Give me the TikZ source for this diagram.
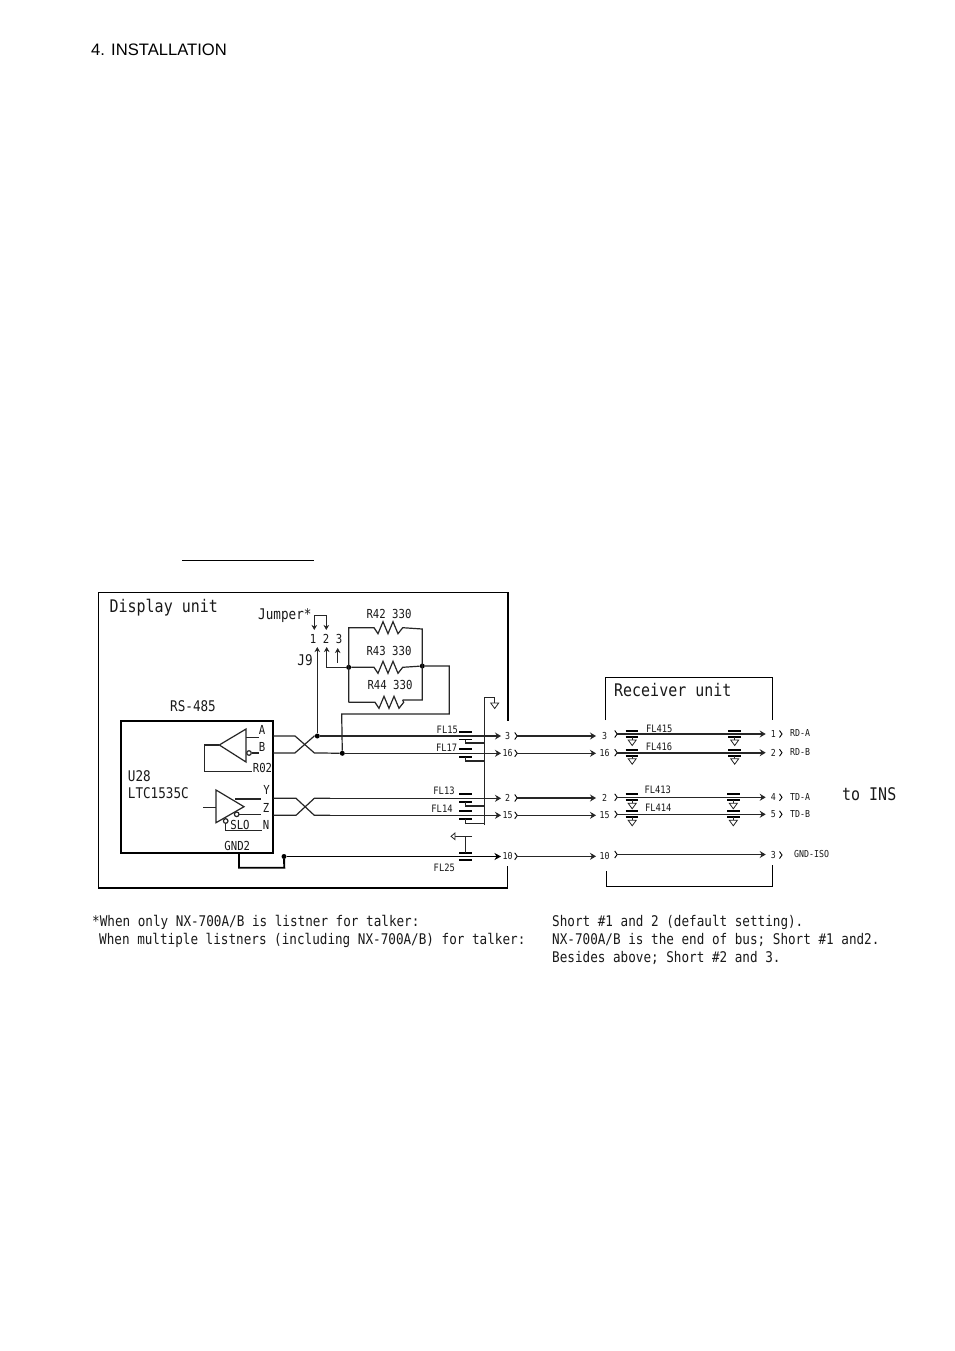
\documentclass[tikz,border=0pt]{standalone}
\usepackage{fontspec}
\usetikzlibrary{arrows.meta}
\setmainfont{Liberation Sans}
\newfontfamily\gothic[FakeStretch=0.86]{DejaVu Sans Mono}
\newcommand{\gsize}[1]{\gothic\fontsize{#1}{#1}\selectfont}
\tikzset{
  wire/.style={line width=1.2pt,black!85},
  heavy/.style={line width=1.9pt,black},
  arrowwire/.style={wire,-{Stealth[length=6pt,width=7pt,inset=2pt]}},
  jumparrow/.style={wire,-{Stealth[length=5pt,width=5.5pt,inset=1.5pt]}},
  boxline/.style={line width=1.1pt,black},
  icbox/.style={line width=1.7pt,black},
  dot/.style={circle,fill=black,inner sep=0pt,minimum size=5pt},
  plate/.style={line width=1.9pt,black},
  gnd/.style={line width=0.8pt,black!85},
  chev/.style={line width=0.9pt,black},
  txt/.style={inner sep=0pt,text=black!90},
  big/.style={txt,font=\gsize{17.4}},
  mid/.style={txt,font=\gsize{14.7}},
  sml/.style={txt,font=\gsize{12.4}},
  fl/.style={txt,font=\gsize{10.2}},
  pin/.style={txt,font=\gsize{9.6}},
}
\newcommand{\chevmark}[2]{\draw[chev] (#1-1.5,#2-3.5) -- (#1+1,#2) -- (#1-1.5,#2+3.5);}
\newcommand{\gndtri}[2]{\draw[gnd,fill=white] (#1-4,#2) -- (#1+4,#2) -- (#1,#2+5.5) -- cycle;}
\newcommand{\zigzag}{-- ++(4,6) -- ++(5,-12) -- ++(5,12) -- ++(5,-12) -- ++(5,12) -- ++(4.7,-6)}
\begin{document}
\begin{tikzpicture}[x=1pt,y=-1pt]
\useasboundingbox (0,0) rectangle (954,1351);
\fill[white] (0,0) rectangle (954,1351);

\node[anchor=west,inner sep=0pt,font=\fontsize{16.6}{17}\selectfont] (title) at (91,49.5) {4. INSTALLATION};
\coordinate (ulA) at (182.3,560.5); \coordinate (ulB) at (314,560.5);
\draw[line width=1.2pt] (ulA) -- (ulB);

% enclosures
\draw[boxline] (508,720.7) -- (508,592.5) -- (98.5,592.5) -- (98.5,888) -- (507.7,888) -- (507.7,866);
\draw[boxline] (605.7,720) -- (605.7,677.3) -- (772.3,677.3) -- (772.3,720);
\draw[boxline] (606.3,871) -- (606.3,886.3) -- (772.3,886.3) -- (772.3,865);
\node[big,anchor=base west] (disp) at (109.5,612.7) {Display unit};
\node[big,anchor=base west] (recv) at (614,696) {Receiver unit};
\node[big,anchor=base west] (ins) at (842,800) {to INS};

% IC
\draw[icbox] (120.7,720.7) rectangle (273.3,853.3);
\node[mid,anchor=base] (rs) at (193,711.7) {RS-485};
\node[mid,anchor=base west] (u28) at (127.7,781) {U28};
\node[mid,anchor=base west] (ltc) at (127.7,798.3) {LTC1535C};
\node[sml] (pA) at (262,730) {A};
\node[sml] (pB) at (262,747) {B};
\node[sml] (pR) at (262.5,768) {R02};
\node[sml] (pY) at (266.5,790) {Y};
\node[sml] (pZ) at (266,808) {Z};
\node[sml] (pN) at (266,825) {N};
\node[sml] (pS) at (240,825) {SLO};
\node[sml] (pG) at (237.3,846) {GND2};

% receiver amplifier
\draw[wire] (246,729) -- (246,762) -- (219.3,745) -- cycle;
\draw[wire] (246,737.3) -- (259,737.3);
\draw[wire] (251.5,753) -- (259,753);
\draw[wire,fill=white] (249,753) circle (2.3);
\draw[wire] (219.3,745) -- (204.3,745) -- (204.3,771.7) -- (251.7,771.7);
% driver amplifier
\draw[wire] (216,790) -- (216,822.7) -- (244,806.7) -- cycle;
\draw[wire] (203.3,807.7) -- (216,807.7);
\draw[wire] (235,799) -- (260.7,799);
\draw[wire] (239,814.3) -- (260.7,814.3);
\draw[wire,fill=white] (236.7,814.3) circle (2.3);
\draw[wire] (225.7,823) -- (225.7,830.7) -- (261.7,830.7);
\draw[wire,fill=white] (225.7,821) circle (2.3);

% junctions
\node[dot] (j1) at (317.3,736) {};
\node[dot] (j2) at (342.3,753.3) {};
\node[dot] (j3) at (348.7,667.3) {};
\node[dot] (j4) at (422.3,666) {};
\node[dot] (j5) at (284,856.5) {};

% twisted pairs
\draw[wire] (273.3,736) -- (295,736) -- (314.3,752.9) -- (j2);
\draw[wire] (273.3,752.9) -- (295,752.9) -- (314.3,736) -- (j1);
\draw[arrowwire] (j1) -- (501,736);
\draw[arrowwire] (j2) -- (501,753.3);
\draw[wire] (273.3,798.3) -- (296,798.3) -- (314.3,815.3) -- (330,815.3);
\draw[wire] (273.3,815.3) -- (296,815.3) -- (314.3,798.3) -- (330,798.3);
\draw[arrowwire] (330,798.3) -- (501,798.3);
\draw[arrowwire] (330,815.3) -- (501,815.3);
\draw[heavy] (239,853.3) -- (239,867.7) -- (284.3,867.7) -- (j5);
\draw[heavy,-{Stealth[length=6.5pt,width=7pt,inset=2pt]}] (j5) -- (501,856.5);

% jumper
\node[mid,anchor=base west] (jmp) at (258,619.3) {Jumper*};
\node[sml] (n1) at (313,639) {1};
\node[sml] (n2) at (326,639) {2};
\node[sml] (n3) at (339,639) {3};
\node[mid] (j9) at (305,660.5) {J9};
\coordinate (jA) at (314.3,630); \coordinate (jB) at (326.3,630);
\draw[jumparrow,line width=1.6pt] (314.3,615.7) -- (jA);
\draw[jumparrow] (314.3,615.7) -- (326.3,615.7) -- (jB);
\draw[jumparrow] (j1) -- (317.3,647);
\draw[jumparrow] (j3) -- (326.7,667.3) -- (326.7,647);
\draw[jumparrow] (337.7,662.7) -- (337.7,648);

% resistors
\node[sml,anchor=base] (r42) at (389,618.3) {R42 330};
\node[sml,anchor=base] (r43) at (389,655) {R43 330};
\node[sml,anchor=base] (r44) at (390,689.3) {R44 330};
\draw[wire] (348.7,702.3) -- (348.7,627.7) -- (374,627.7) \zigzag -- (422.3,629) -- (422.3,700) -- (402.7,700);
\draw[wire] (348.7,702.3) -- (375,702.3) \zigzag -- (402.7,700);
\draw[wire] (j3) -- (374,667.3) \zigzag -- (j4);
\draw[wire] (j4) -- (449.3,666) -- (449.3,714) -- (341.7,714) -- (j2);

% ground bus, display unit
\draw[wire] (484.3,825) -- (484.3,697.3) -- (494.5,697.3) -- (494.5,703);
\gndtri{494.7}{703}
\foreach \nm/\wy/\stub/\txt/\tx/\ty in {a/736/743/FL15/447.3/730, b/753.3/761/FL17/446.7/748, c/798.3/806/FL13/444/791, d/815.3/823.7/FL14/442/809}{
  \draw[plate] (459.3,\wy-4) -- (472.3,\wy-4);
  \draw[plate] (459.3,\wy+3.5) -- (472.3,\wy+3.5);
  \draw[wire] (465.3,\wy+3.5) -- (465.3,\stub) -- (484.3,\stub);
  \node[fl] (lab\nm) at (\tx,\ty) {\txt};
}
\draw[plate] (459.3,852.7) -- (472.3,852.7);
\draw[plate] (459.3,860) -- (472.3,860);
\draw[wire] (465.3,852.7) -- (465.3,836.3);
\draw[wire] (472,836.3) -- (455,836.3);
\draw[gnd,fill=white] (455,833) -- (455,839.6) -- (451,836.3) -- cycle;
\node[fl] (labe) at (444.3,868) {FL25};

% connectors and receiver wires
\foreach \nm/\wy/\lab in {a/736/3, b/753.3/16, c/798/2, d/815.3/15, e/856.3/10}{
  \node[pin] (pl\nm) at (507.7,\wy) {\lab};
  \chevmark{516.2}{\wy}
  \draw[arrowwire] (516.7,\wy) -- (596,\wy);
  \node[pin] (pr\nm) at (604.5,\wy) {\lab};
}
\foreach \wy/\heavyw/\plab/\sig/\cx/\sx in {734/1.2/1/RD-A/734.7/790, 752.7/1.9/2/RD-B/734.7/790, 797.3/1.2/4/TD-A/733.3/790, 814.3/1.2/5/TD-B/733.3/790}{
  \chevmark{616.2}{\wy}
  \draw[arrowwire,line width=\heavyw pt] (616.7,\wy) -- (765.7,\wy);
  \draw[plate] (625.7,\wy-3) -- (638.3,\wy-3);
  \draw[plate] (625.7,\wy+3) -- (638.3,\wy+3);
  \draw[plate] (\cx-6.3,\wy-3) -- (\cx+6.3,\wy-3);
  \draw[plate] (\cx-6.3,\wy+3) -- (\cx+6.3,\wy+3);
  \draw[gnd] (632.2,\wy+3) -- (632.2,\wy+6);
  \draw[gnd] (\cx,\wy+3) -- (\cx,\wy+6);
  \gndtri{632.2}{\wy+6}
  \gndtri{\cx}{\wy+6}
  \node[pin] at (773.3,\wy) {\plab};
  \chevmark{781}{\wy}
  \node[pin,anchor=west] at (\sx,\wy-0.7) {\sig};
}
\chevmark{616.2}{854.5}
\draw[arrowwire] (616.7,854.5) -- (765.7,854.5);
\node[pin] (p3) at (773.3,855) {3};
\chevmark{781}{855}
\node[pin,anchor=west] (gi) at (794,854) {GND-ISO};
\node[fl] (f415) at (659.3,729.3) {FL415};
\node[fl] (f416) at (659,747) {FL416};
\node[fl] (f413) at (657.7,790) {FL413};
\node[fl] (f414) at (658.3,808) {FL414};

% notes
\node[mid,anchor=base west] (note1) at (92,926.5) {*When only NX-700A/B is listner for talker:};
\node[mid,anchor=base west] (note2) at (99,944.4) {When multiple listners (including NX-700A/B) for talker:};
\node[mid,anchor=base west] (note3) at (552,926.5) {Short \#1 and 2 (default setting).};
\node[mid,anchor=base west] (note4) at (552,944.4) {NX-700A/B is the end of bus; Short \#1 and2.};
\node[mid,anchor=base west] (note5) at (552,962.3) {Besides above; Short \#2 and 3.};
\end{tikzpicture}
\end{document}
